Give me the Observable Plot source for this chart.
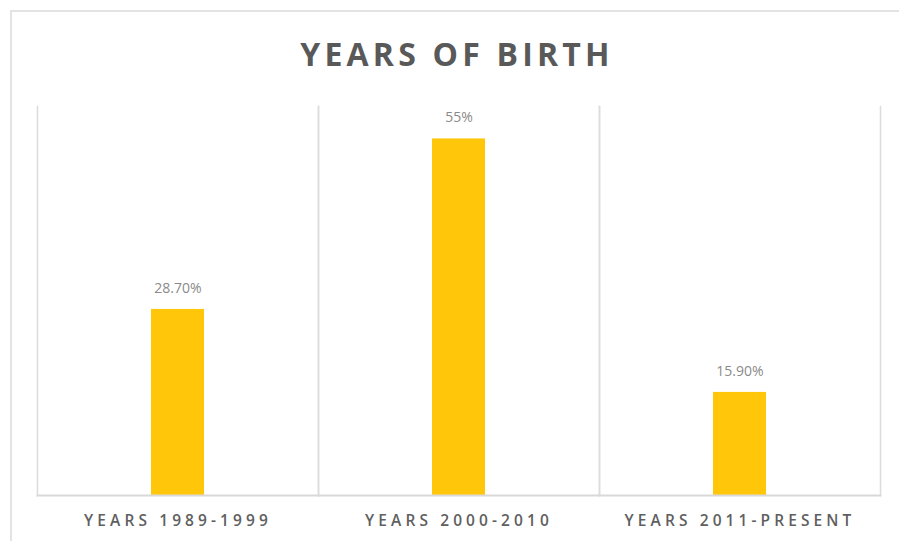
<!DOCTYPE html>
<html>
<head>
<meta charset="utf-8">
<script src="https://cdn.jsdelivr.net/npm/d3@7"></script>
<script src="https://cdn.jsdelivr.net/npm/@observablehq/plot@0.6"></script>
<style>
  html, body { margin: 0; padding: 0; background: #fff; }
  #wrap { position: relative; width: 899px; height: 541px; overflow: hidden; }
  #frame { position: absolute; left: 10px; top: 10px; width: 900px; height: 560px; border: 2px solid #e3e3e3; box-sizing: border-box; }
  #title { position: absolute; left: 0; width: 914px; top: 32px; text-align: center; margin: 0;
    font-family: "Open Sans", sans-serif; font-weight: 700; font-size: 32px; letter-spacing: 4.2px; color: #595959; }
  #chart { position: absolute; left: 0; top: 0; }
  #chart svg text { font-family: "Open Sans", sans-serif; }
</style>
</head>
<body>
<div id="wrap">
  <div id="frame"></div>
  <h2 id="title">YEARS OF BIRTH</h2>
  <div id="chart"></div>
</div>
<script>
const categories = ["YEARS 1989-1999", "YEARS 2000-2010", "YEARS 2011-PRESENT"];
const values = [28.7, 55, 15.9];
const valueLabels = ["28.70%", "55%", "15.90%"];

const data = categories.map((c, i) => ({category: c, value: values[i], label: valueLabels[i]}));

const chart = Plot.plot({
  width: 899,
  height: 541,
  marginTop: 106,
  marginBottom: 46,
  marginLeft: 37,
  marginRight: 19,
  style: {background: "transparent", overflow: "visible"},
  fx: {domain: categories, padding: 0, axis: "bottom", label: null, tickSize: 0, tickPadding: 19},
  y: {domain: [0, 60], axis: null},
  marks: [
    Plot.frame({anchor: "left", stroke: "#dcdcdc", strokeWidth: 1.5, strokeOpacity: 1}),
    Plot.frame({anchor: "right", stroke: "#dcdcdc", strokeWidth: 1.5, strokeOpacity: 1}),
    Plot.barY(data, {fx: "category", y: "value", fill: "#FFC60A", insetLeft: 114, insetRight: 114}),
    Plot.frame({anchor: "bottom", stroke: "#d9d9d9", strokeWidth: 2, strokeOpacity: 1}),
    Plot.text(data, {fx: "category", y: "value", text: "label", dy: -21, fill: "#8a8a8a", fontSize: 14, lineAnchor: "middle"})
  ]
});
chart.querySelectorAll("[aria-label='fx-axis tick label'] text").forEach(t => {
  t.setAttribute("font-size", "15.5");
  t.setAttribute("font-weight", "600");
  t.style.letterSpacing = "4.1px";
  t.setAttribute("fill", "#5f5f5f");
});
document.getElementById("chart").appendChild(chart);
</script>
</body>
</html>
